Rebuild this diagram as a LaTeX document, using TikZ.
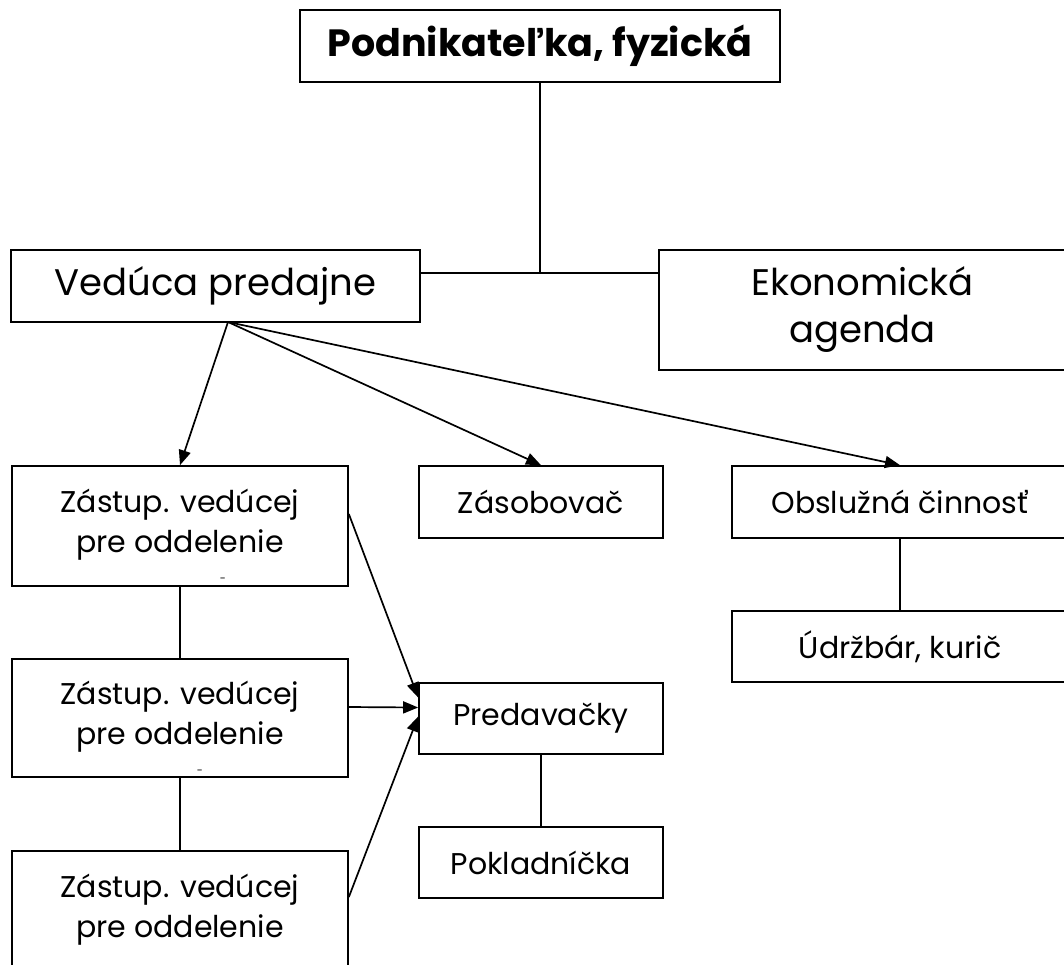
\documentclass[tikz,border=0pt]{standalone}
\usepackage{fontspec}
\setmainfont{Poppins}
\usetikzlibrary{arrows.meta,positioning}

\begin{document}
\begin{tikzpicture}[
    x=1pt, y=-1pt,
    >={Triangle[length=15pt,width=12pt]},
    line width=1.7pt,
    orgbox/.style={
        draw,
        font=\fontsize{30}{40}\selectfont,
        align=center,
        inner sep=0pt
    },
    headbox/.style={
        orgbox,
        font=\fontsize{38}{40}\selectfont\bfseries
    },
    bigbox/.style={
        orgbox,
        font=\fontsize{37}{47}\selectfont
    },
    zbox/.style={
        orgbox,
        minimum width=336pt,
        minimum height=120pt
    }
]

\useasboundingbox (0,0) rectangle (1064,964);

% top level
\node[headbox, minimum width=480pt, minimum height=72pt] (owner) at (540,46)
    {Podnikateľka, fyzická};

\node[bigbox, minimum width=409pt, minimum height=72pt] (head) at (215.5,286)
    {Vedúca predajne};

\node[bigbox, minimum width=407pt, minimum height=120pt] (econ) at (862.5,310)
    {Ekonomická\\agenda};

\coordinate (join) at (540,273);
\draw (owner.south) -- (join);
\draw (head.east |- join) -- (econ.west |- join);

% second level
\node[zbox] (dep1) at (180,526)
    {\rule{0pt}{42pt}Zástup. vedúcej\\pre oddelenie\\[-10pt]{\fontsize{11}{11}\selectfont\hspace*{86pt}-}};
\node[zbox, minimum height=118pt] (dep2) at (180,718)
    {\rule{0pt}{42pt}Zástup. vedúcej\\pre oddelenie\\[-10pt]{\fontsize{11}{11}\selectfont\hspace*{40pt}-}};
\node[zbox] (dep3) at (180,911)
    {\rule{0pt}{42pt}Zástup. vedúcej\\pre oddelenie\\[-10pt]{\fontsize{11}{11}\selectfont\ }};

\node[orgbox, minimum width=244pt, minimum height=72pt] (stock) at (541,502)
    {Zásobovač};
\node[orgbox, minimum width=336pt, minimum height=72pt] (serv) at (900,502)
    {Obslužná činnosť};
\node[orgbox, minimum width=336pt, minimum height=71pt] (maint) at (900,646.5)
    {Údržbár, kurič};

\node[orgbox, minimum width=244pt, minimum height=71pt] (sales) at (541,718.5)
    {Predavačky};
\node[orgbox, minimum width=244pt, minimum height=71pt] (cash) at (541,862.5)
    {Pokladníčka};

% connectors
\coordinate (hs) at (228,322);
\draw[->] (hs) -- (dep1.north);
\draw[->] (hs) -- (stock.north);
\draw[->] (hs) -- (serv.north);

\draw (dep1.south) -- (dep2.north);
\draw (dep2.south) -- (dep3.north);
\draw (serv.south) -- (maint.north);
\draw (sales.south) -- (cash.north);

\draw[->] ([yshift=12pt]dep1.east) -- ([yshift=21pt]sales.west);
\draw[->] ([yshift=11pt]dep2.east) -- ([yshift=11pt]sales.west);
\draw[->] ([yshift=14pt]dep3.east) -- ([yshift=2pt]sales.west);

\end{tikzpicture}
\end{document}
